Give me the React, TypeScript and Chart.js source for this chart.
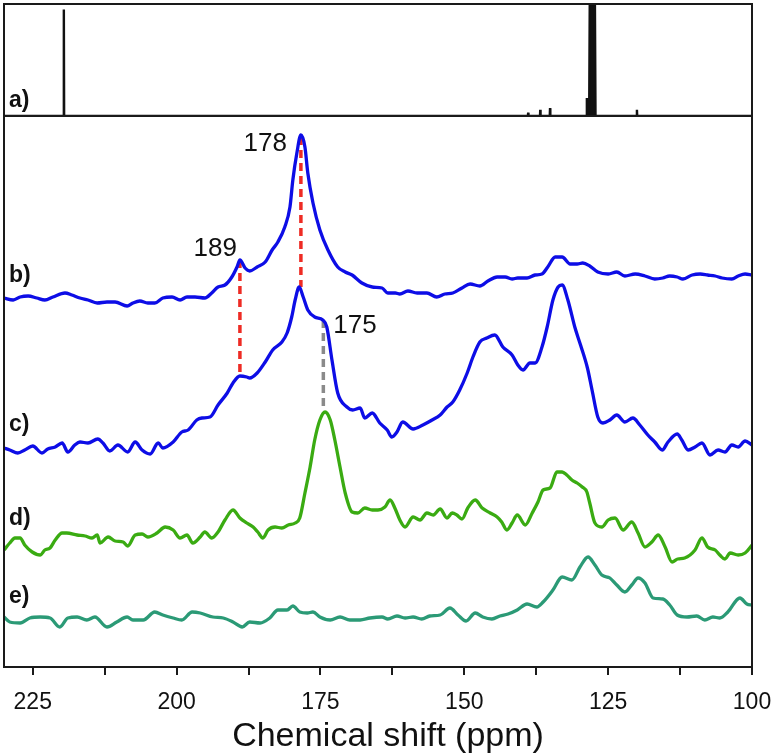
import { useEffect, useRef } from 'react';
import { Chart, registerables } from 'chart.js';

Chart.register(...registerables);

const FONT = '"Liberation Sans", Arial, Helvetica, sans-serif';

// a) reference spectrum (top panel), relative intensity 0..100
const A_SHIFT = [230, 219.65, 219.6, 219.55, 138.95, 138.9, 138.85, 136.85, 136.8, 136.75, 135.15, 135.1, 135.05, 128.8, 128.7, 128.5, 128.3, 128.15, 127.35, 127.2, 120.05, 120.0, 119.95, 100];
const A_INT = [0, 0, 95, 0, 0, 3, 0, 0, 5.5, 0, 0, 7, 0, 0, 16, -1, 0, 150, 150, 0, 0, 5.5, 0, 0];

// b) spectrum
const B_SHIFT = [230.0, 228.4, 227.2, 225.8, 224.3, 222.9, 221.5, 219.4, 218.2, 216.8, 215.4, 213.8, 212.1, 210.7, 208.6, 207.6, 206.4, 205.0, 203.8, 202.4, 200.8, 199.4, 198.2, 196.8, 195.1, 193.9, 192.8, 191.6, 190.4, 189.5, 189.0, 188.1, 187.3, 186.0, 184.6, 183.4, 182.4, 181.2, 180.3, 179.8, 179.1, 178.4, 177.7, 177.2, 176.3, 175.1, 173.7, 172.0, 170.7, 169.5, 167.8, 166.0, 164.3, 163.3, 162.0, 161.2, 159.8, 158.2, 156.5, 154.8, 153.4, 152.0, 150.4, 149.0, 147.3, 145.9, 144.3, 142.9, 141.7, 140.7, 139.1, 137.7, 136.5, 135.5, 134.2, 133.0, 131.6, 130.4, 129.4, 128.2, 126.8, 125.0, 123.5, 122.1, 120.3, 118.6, 116.9, 115.5, 114.3, 113.0, 112.0, 110.4, 109.0, 107.7, 106.4, 105.2, 103.5, 102.4, 101.2, 100.0];
const B_INT = [369, 367, 370, 371, 369, 367, 370, 374, 372, 369, 367, 364, 365, 365, 361, 364, 366, 364, 364, 369, 370, 367, 370, 370, 369, 374, 380, 382, 390, 400, 407, 399, 396, 400, 405, 417, 425, 440, 460, 487, 514, 532, 520, 494, 464, 437, 417, 400, 395, 392, 384, 380, 379, 374, 374, 373, 376, 374, 374, 370, 373, 374, 379, 383, 381, 386, 390, 390, 388, 389, 389, 392, 393, 400, 410, 410, 403, 403, 404, 401, 395, 393, 395, 391, 393, 391, 388, 389, 391, 390, 388, 392, 393, 392, 391, 389, 388, 391, 393, 392];

// c) spectrum
const C_SHIFT = [230.0, 229.0, 227.6, 226.4, 225.0, 223.4, 222.4, 221.1, 219.9, 218.9, 217.7, 216.8, 215.4, 213.7, 212.8, 211.6, 210.2, 208.5, 207.2, 206.0, 204.6, 203.2, 202.4, 200.6, 199.1, 198.0, 196.5, 195.6, 194.2, 192.8, 191.2, 190.2, 189.0, 187.8, 187.3, 186.0, 184.6, 183.3, 181.7, 180.8, 180.0, 179.4, 178.7, 178.0, 177.2, 176.0, 174.6, 173.9, 173.0, 172.0, 170.4, 169.4, 168.1, 167.3, 166.0, 164.7, 163.4, 162.6, 161.7, 160.7, 158.9, 157.2, 155.6, 154.2, 153.0, 152.0, 150.8, 149.5, 148.5, 147.3, 146.1, 144.7, 143.3, 141.7, 140.7, 139.8, 138.6, 137.7, 136.5, 135.6, 134.6, 133.7, 133.0, 132.0, 130.8, 129.8, 128.6, 127.8, 126.8, 125.9, 124.7, 123.5, 122.1, 120.7, 119.5, 118.1, 116.9, 115.6, 114.6, 113.0, 112.2, 111.1, 109.9, 108.7, 107.3, 105.9, 104.7, 103.5, 102.4, 101.2, 100.0];
const C_INT = [219, 217, 214, 217, 221, 214, 218, 220, 224, 215, 222, 225, 224, 228, 224, 216, 222, 215, 225, 217, 213, 224, 219, 225, 235, 237, 247, 249, 250, 262, 274, 284, 291, 290, 289, 294, 305, 317, 325, 334, 350, 367, 380, 370, 357, 350, 347, 340, 307, 274, 260, 257, 259, 249, 254, 244, 237, 230, 235, 245, 238, 242, 247, 252, 260, 265, 277, 294, 310, 325, 329, 332, 320, 312, 302, 297, 304, 304, 320, 340, 367, 380, 382, 367, 340, 322, 299, 277, 250, 244, 247, 252, 245, 249, 242, 232, 225, 217, 225, 233, 227, 217, 220, 224, 212, 217, 215, 222, 220, 226, 222];

// d) spectrum
const D_SHIFT = [230.0, 229.0, 228.1, 227.2, 226.4, 225.1, 223.7, 222.9, 222.0, 221.1, 219.9, 219.1, 217.3, 215.9, 214.7, 213.8, 213.3, 211.9, 210.7, 209.3, 208.5, 207.2, 206.0, 205.0, 203.4, 202.0, 200.6, 199.4, 198.2, 197.2, 195.9, 195.1, 193.9, 192.8, 191.6, 190.2, 189.0, 187.8, 186.7, 185.9, 185.0, 184.1, 182.9, 181.7, 180.6, 179.4, 178.6, 177.7, 176.8, 176.0, 175.1, 174.2, 173.3, 172.5, 171.6, 170.7, 169.5, 168.5, 167.3, 166.0, 165.0, 163.8, 162.9, 162.0, 161.2, 160.3, 158.9, 157.7, 156.5, 155.4, 154.2, 153.0, 152.1, 151.3, 150.4, 149.4, 148.1, 146.9, 145.5, 144.3, 143.5, 142.6, 141.7, 140.8, 139.4, 138.2, 137.2, 136.3, 135.1, 133.9, 133.0, 132.2, 131.3, 130.4, 129.5, 128.7, 128.2, 127.3, 126.1, 125.0, 123.8, 122.4, 120.9, 119.8, 118.6, 117.4, 116.3, 115.1, 113.9, 112.9, 111.7, 109.9, 108.7, 107.7, 106.4, 105.6, 104.7, 103.8, 102.4, 101.2, 100.0];
const D_INT = [117, 124, 129, 129, 122, 115, 112, 117, 119, 127, 134, 134, 132, 131, 129, 132, 124, 130, 126, 125, 121, 132, 133, 130, 134, 140, 137, 129, 132, 124, 130, 135, 129, 135, 147, 157, 149, 144, 140, 135, 129, 137, 140, 139, 142, 144, 149, 174, 200, 227, 247, 255, 247, 227, 200, 174, 155, 154, 159, 157, 157, 160, 167, 158, 147, 140, 150, 147, 154, 152, 158, 149, 154, 152, 148, 159, 167, 159, 154, 150, 145, 137, 144, 152, 142, 154, 165, 177, 179, 195, 195, 192, 187, 184, 180, 175, 164, 144, 140, 147, 149, 137, 145, 134, 120, 125, 132, 120, 105, 108, 109, 117, 129, 120, 117, 112, 108, 114, 112, 114, 122];

// e) spectrum
const E_SHIFT = [230.0, 229.0, 227.2, 225.5, 223.7, 222.0, 220.3, 218.9, 217.3, 215.6, 214.2, 212.1, 210.4, 208.6, 207.6, 205.8, 203.8, 202.4, 200.6, 199.1, 197.3, 195.9, 193.7, 191.9, 190.2, 188.6, 187.3, 185.5, 183.8, 182.4, 180.8, 179.8, 178.6, 177.3, 176.3, 175.1, 173.3, 171.6, 169.9, 168.1, 166.4, 164.3, 163.3, 161.7, 160.3, 158.9, 157.4, 156.0, 154.2, 152.5, 151.1, 149.7, 148.1, 146.8, 145.2, 143.8, 142.4, 140.8, 139.1, 137.4, 136.3, 134.6, 133.0, 131.3, 129.9, 128.5, 127.3, 126.1, 124.7, 123.5, 122.1, 120.9, 119.8, 118.6, 117.2, 115.5, 114.3, 113.0, 111.3, 109.6, 108.2, 106.8, 105.6, 104.2, 102.1, 100.9, 100.0];
const E_INT = [50, 45, 44, 49, 50, 49, 40, 49, 50, 47, 50, 40, 45, 50, 47, 47, 55, 52, 49, 47, 55, 54, 50, 49, 45, 40, 45, 44, 49, 57, 57, 61, 55, 54, 55, 50, 47, 50, 47, 47, 49, 50, 48, 51, 49, 50, 48, 51, 52, 59, 52, 46, 54, 50, 48, 51, 53, 57, 63, 60, 65, 77, 90, 87, 100, 110, 102, 92, 89, 82, 75, 82, 89, 84, 69, 68, 62, 52, 50, 51, 47, 50, 49, 55, 69, 63, 62];

// dashed peak markers: shift, upper end, lower end
const MARK_SHIFT = [189.0, 178.4, 174.5];
const MARK_TOP = [407, 530, 347];
const MARK_BOTTOM = [290, 380, 257];
const MARK_COLOR = ['#ee2b24', '#ee2b24', '#8a8a8a'];
const MARK_TEXT = ['189', '178', '175'];

const PANEL_LABELS = ['a)', 'b)', 'c)', 'd)', 'e)'];
const SERIES_COLORS = ['#111111', '#0d0de6', '#0d0de6', '#3aab12', '#2b9a76'];
const X_TITLE = 'Chemical shift (ppm)';

const pts = (xs: number[], ys: number[]) => xs.map((x, i) => ({ x, y: ys[i] }));

export default function App() {
  const ref = useRef<HTMLCanvasElement | null>(null);

  useEffect(() => {
    if (!ref.current) return;

    const line = (data: any[], color: string, yAxisID: string, extra: any = {}) => ({
      data,
      borderColor: color,
      backgroundColor: color,
      borderWidth: 3.3,
      pointRadius: 0,
      cubicInterpolationMode: 'monotone',
      yAxisID,
      ...extra,
    });

    const datasets: any[] = [
      line(pts(A_SHIFT, A_INT), SERIES_COLORS[0], 'yA', { borderWidth: 2.4, cubicInterpolationMode: 'default', tension: 0, fill: 'origin' }),
      line(pts(B_SHIFT, B_INT), SERIES_COLORS[1], 'yB'),
      line(pts(C_SHIFT, C_INT), SERIES_COLORS[2], 'yB'),
      line(pts(D_SHIFT, D_INT), SERIES_COLORS[3], 'yB'),
      line(pts(E_SHIFT, E_INT), SERIES_COLORS[4], 'yB'),
    ];
    MARK_SHIFT.forEach((s, i) => {
      datasets.push({
        data: [{ x: s, y: MARK_TOP[i] }, { x: s, y: MARK_BOTTOM[i] }],
        borderColor: MARK_COLOR[i],
        borderWidth: 3.5,
        borderDash: [8, 5],
        pointRadius: 0,
        yAxisID: 'yB',
        tension: 0,
      });
    });

    const decor = {
      id: 'decor',
      afterDatasetsDraw(chart: any) {
        const { ctx, chartArea } = chart;
        const xs = chart.scales.x;
        const yA = chart.scales.yA;
        const yB = chart.scales.yB;
        ctx.save();
        // frame + separator
        ctx.strokeStyle = '#1a1a1a';
        ctx.lineWidth = 2;
        ctx.strokeRect(chartArea.left, chartArea.top, chartArea.right - chartArea.left, chartArea.bottom - chartArea.top);
        ctx.beginPath();
        ctx.moveTo(chartArea.left, yA.bottom);
        ctx.lineTo(chartArea.right, yA.bottom);
        ctx.stroke();

        // peak labels
        ctx.fillStyle = '#111';
        ctx.font = `26px ${FONT}`;
        ctx.textBaseline = 'middle';
        const offs = [
          { dx: -3, dy: -11, align: 'right' },
          { dx: -14, dy: 7, align: 'right' },
          { dx: 10, dy: 6, align: 'left' },
        ];
        MARK_TEXT.forEach((t, i) => {
          ctx.textAlign = offs[i].align;
          ctx.fillText(t, xs.getPixelForValue(MARK_SHIFT[i]) + offs[i].dx, yB.getPixelForValue(MARK_TOP[i]) + offs[i].dy);
        });

        // panel labels
        ctx.font = `bold 23px ${FONT}`;
        ctx.textAlign = 'left';
        const labelY = [yA.getPixelForValue(14), yB.getPixelForValue(391), yB.getPixelForValue(242), yB.getPixelForValue(148), yB.getPixelForValue(70)];
        PANEL_LABELS.forEach((t, i) => {
          ctx.fillText(t, chartArea.left + 5, labelY[i]);
        });

        // axis title
        ctx.font = `34px ${FONT}`;
        ctx.textAlign = 'center';
        ctx.fillText(X_TITLE, (chartArea.left + chartArea.right) / 2 + 10, chart.height - 17);
        ctx.restore();
      },
    };

    const chart = new Chart(ref.current, {
      type: 'line',
      data: { datasets },
      options: {
        animation: false,
        responsive: true,
        maintainAspectRatio: false,
        layout: { padding: { left: 4, right: 26, top: 4, bottom: 0 } },
        plugins: { legend: { display: false }, tooltip: { enabled: false } },
        elements: { point: { radius: 0 } },
        scales: {
          x: {
            type: 'linear',
            reverse: true,
            min: 100,
            max: 230,
            ticks: {
              stepSize: 12.5,
              includeBounds: false,
              autoSkip: false,
              maxRotation: 0,
              padding: 14,
              color: '#111',
              font: { size: 23, family: FONT },
              callback: (v: any) => (Number(v) % 25 === 0 ? String(v) : ''),
            },
            grid: { drawOnChartArea: false, drawTicks: true, tickLength: 8, color: '#1a1a1a', lineWidth: 2 },
            border: { display: false },
            title: { display: false },
            afterFit: (s: any) => { s.height = 87; s.paddingLeft = 0; s.paddingRight = 0; },
          } as any,
          yB: { type: 'linear', display: false, min: 0, max: 551, stack: 'v', stackWeight: 551, position: 'left' } as any,
          yA: { type: 'linear', display: false, min: 0, max: 100, stack: 'v', stackWeight: 112, position: 'left' } as any,
        },
      } as any,
      plugins: [decor],
    });
    return () => chart.destroy();
  }, []);

  return (
    <div style={{ position: 'absolute', left: 0, top: 0, width: 778, height: 754, background: '#fff' }}>
      <canvas ref={ref} />
    </div>
  );
}
